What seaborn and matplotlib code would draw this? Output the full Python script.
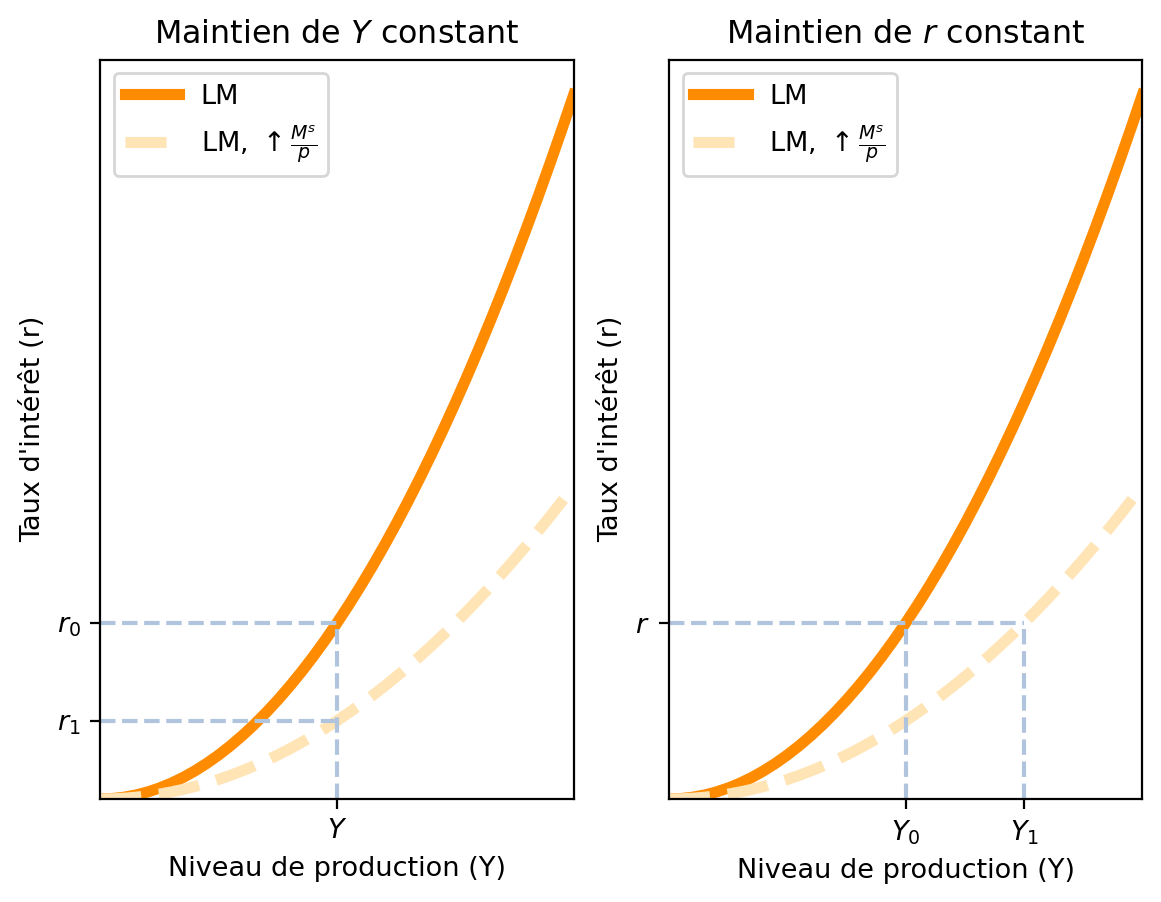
import matplotlib
matplotlib.use("Agg")
import matplotlib.pyplot as plt
import seaborn as sns
import pandas as pd

# Data
production = [0, 0.25, 0.5, 0.75, 1, 1.25, 1.5, 1.75, 2, 2.25, 2.5, 2.75, 3, 3.25, 3.5, 3.75,
              4, 4.25, 4.5, 4.75, 5, 5.25, 5.5, 5.75, 6, 6.25, 6.5, 6.75, 7, 7.25, 7.5, 7.75,
              8, 8.25, 8.5, 8.75, 9, 9.25, 9.5, 9.75, 10]
lm_rate = [0, 0.0625, 0.25, 0.5625, 1, 1.5625, 2.25, 3.0625, 4, 5.0625, 6.25, 7.5625, 9,
           10.5625, 12.25, 14.0625, 16, 18.0625, 20.25, 22.5625, 25, 27.5625, 30.25, 33.0625,
           36, 39.0625, 42.25, 45.5625, 49, 52.5625, 56.25, 60.0625, 64, 68.0625, 72.25,
           76.5625, 81, 85.5625, 90.25, 95.0625, 100]
lm_shift_rate = [0, 0.028, 0.111, 0.25, 0.444, 0.694, 1.0, 1.361, 1.778, 2.25, 2.778, 3.361,
                 4.0, 4.694, 5.444, 6.25, 7.111, 8.028, 9.0, 10.028, 11.111, 12.25, 13.444,
                 14.694, 16.0, 17.361, 18.778, 20.25, 21.778, 23.361, 25.0, 26.694, 28.444,
                 30.25, 32.111, 34.028, 36.0, 38.028, 40.111, 42.25, 44.444]

y_level = 5
r0_level = 25
r1_level = 11.111
y0_level = 5
y1_level = 7.5

titles = ["Maintien de $Y$ constant", "Maintien de $r$ constant"]
xlabel = "Niveau de production (Y)"
ylabel = "Taux d'intérêt (r)"
labels = ["LM", "LM, $\\uparrow \\frac{M^s}{p}$"]

df = pd.DataFrame({"Y": production, "LM": lm_rate, "LM2": lm_shift_rate})

fig = plt.figure(figsize=(11.61 / 2, 9.02 / 2), dpi=200)
ax1 = fig.add_axes([100.3 / 1161, 1 - 799 / 902, 473.4 / 1161, 739.5 / 902])
ax2 = fig.add_axes([669 / 1161, 1 - 799 / 902, 473.4 / 1161, 739.5 / 902])

orange = "#FF8C00"
light = "#FFE4B5"
guide = "#B0C4DE"
fs = 9.77

for ax, title in zip([ax1, ax2], titles):
    sns.lineplot(data=df, x="Y", y="LM", ax=ax, color=orange, lw=4, label=labels[0])
    sns.lineplot(data=df, x="Y", y="LM2", ax=ax, color=light, lw=4, linestyle="--",
                 label=labels[1])
    ax.set_xlim(0, 10)
    ax.set_ylim(0, 105)
    ax.set_title(title, fontsize=11.45)
    ax.set_xlabel(xlabel, fontsize=fs)
    ax.set_ylabel(ylabel, fontsize=fs)
    ax.legend(loc="upper left", fontsize=fs)

# Left panel guides
ax1.plot([0, y_level], [r0_level, r0_level], color=guide, ls="--", lw=1.5)
ax1.plot([0, y_level], [r1_level, r1_level], color=guide, ls="--", lw=1.5)
ax1.plot([y_level, y_level], [0, r0_level], color=guide, ls="--", lw=1.5)
ax1.set_xticks([y_level])
ax1.set_xticklabels(["$Y$"], fontsize=fs)
ax1.set_yticks([r0_level, r1_level])
ax1.set_yticklabels(["$r_0$", "$r_1$"], fontsize=fs)

# Right panel guides
ax2.plot([0, y1_level], [r0_level, r0_level], color=guide, ls="--", lw=1.5)
ax2.plot([y0_level, y0_level], [0, r0_level], color=guide, ls="--", lw=1.5)
ax2.plot([y1_level, y1_level], [0, r0_level], color=guide, ls="--", lw=1.5)
ax2.set_xticks([y0_level, y1_level])
ax2.set_xticklabels(["$Y_0$", "$Y_1$"], fontsize=fs)
ax2.set_yticks([r0_level])
ax2.set_yticklabels(["$r$"], fontsize=fs)

fig.savefig("out.png", dpi=200)
